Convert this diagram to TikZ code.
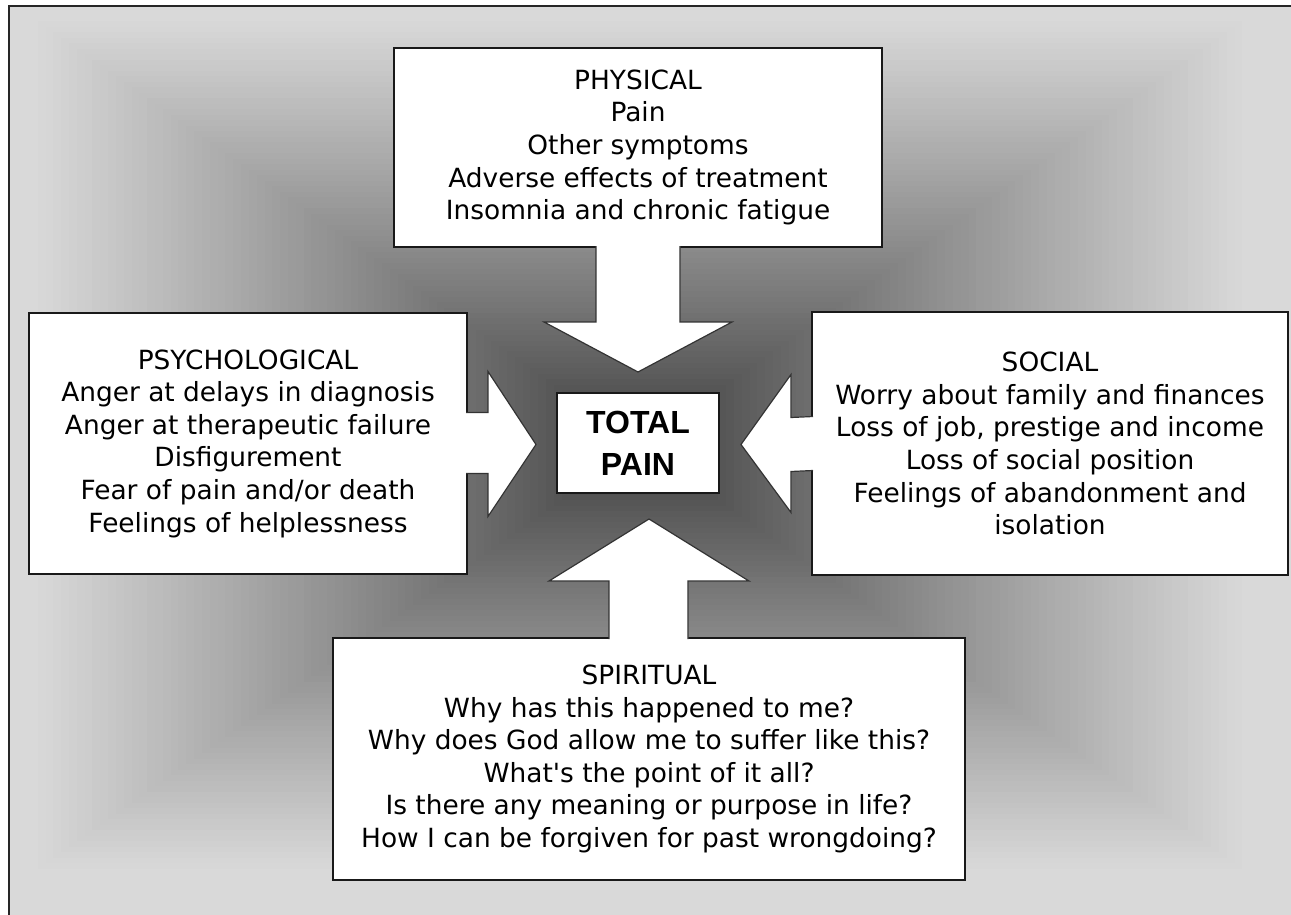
\documentclass[tikz,border=0pt]{standalone}
\usepackage{fontspec}
\setmainfont{DejaVu Sans}
\newfontfamily\titlefont{Liberation Sans}
\usetikzlibrary{calc}

\tikzset{
  panel/.style={draw=black!90,line width=1pt,fill=white,align=center,inner sep=0pt},
  blockarrow/.style={fill=white,draw=black!80,line width=0.6pt,line join=miter},
}

\begin{document}
\begin{tikzpicture}[x=0.5pt,y=-0.5pt,font=\fontsize{13.2}{16.3}\selectfont]
  \useasboundingbox (0,0) rectangle (1291,915);
  \fill[white] (0,0) rectangle (1291,915);
  % backdrop: rectangular shading, dark round the middle, light at the rim
  \begin{scope}
    \clip (9,6) rectangle (1291,915);
    \foreach \i in {0,...,89}{
      \pgfmathsetmacro\t{1.1*(1-\i/90)}
      \pgfmathsetmacro\k{100-100*(0.23+0.62*min(1,\t/0.95)^0.9)}
      \fill[black!\k] ({640-640*\t},{445-450*\t}) rectangle ({640+640*\t},{445+450*\t});
    }
  \end{scope}
  \draw[black!85,line width=1pt] (9,915) -- (9,6) -- (1291,6);

  % the four panels
  \node[panel,minimum width=244pt,minimum height=99.5pt] (phys) at (638,147.5)
    {PHYSICAL\\Pain\\Other symptoms\\Adverse effects of treatment\\Insomnia and chronic fatigue};
  \node[panel,minimum width=219pt,minimum height=130.5pt] (psych) at (248,443.5)
    {PSYCHOLOGICAL\\Anger at delays in diagnosis\\Anger at therapeutic failure\\Disfigurement\\Fear of pain and/or death\\Feelings of helplessness};
  \node[panel,minimum width=238pt,minimum height=131.5pt] (social) at (1050,443.5)
    {SOCIAL\\Worry about family and finances\\Loss of job, prestige and income\\Loss of social position\\Feelings of abandonment and\\isolation};
  \node[panel,minimum width=316pt,minimum height=121pt] (spirit) at (649,759)
    {SPIRITUAL\\Why has this happened to me?\\Why does God allow me to suffer like this?\\What\textquotesingle s the point of it all?\\Is there any meaning or purpose in life?\\How I can be forgiven for past wrongdoing?};

  % centre
  \node[panel,minimum width=81pt,minimum height=50pt,font=\titlefont\bfseries\fontsize{16}{21}\selectfont] (total) at (638,443) {TOTAL\\PAIN};

  % block arrows into the centre
  \coordinate (tipP) at ($(total.north)+(0,-20)$);
  \coordinate (tipS) at ($(spirit.north |- total.south)+(0,25)$);
  \coordinate (tipL) at ($(total.west |- psych.east)+(-20,1)$);
  \coordinate (tipR) at ($(total.east |- social.west)+(21,1)$);
  \path[blockarrow] ($(phys.south)+(-42,-2)$) -- ($(tipP)+(-42,-50)$) -- ($(tipP)+(-94,-50)$) -- (tipP)
    -- ($(tipP)+(94,-50)$) -- ($(tipP)+(42,-50)$) -- ($(phys.south)+(42,-2)$);
  \path[blockarrow] ($(spirit.north)+(-40,2)$) -- ($(tipS)+(-40,62)$) -- ($(tipS)+(-100,62)$) -- (tipS)
    -- ($(tipS)+(100,62)$) -- ($(tipS)+(39,62)$) -- ($(spirit.north)+(39,2)$);
  \path[blockarrow] ($(psych.east)+(-2,-31)$) -- ($(tipL)+(-48,-32)$) -- ($(tipL)+(-48,-73)$) -- (tipL)
    -- ($(tipL)+(-48,72)$) -- ($(tipL)+(-48,29)$) -- ($(psych.east)+(-2,30)$);
  \path[blockarrow] ($(social.west)+(2,-27)$) -- ($(tipR)+(50,-27)$) -- ($(tipR)+(50,-70)$) -- (tipR)
    -- ($(tipR)+(50,68)$) -- ($(tipR)+(50,27)$) -- ($(social.west)+(2,27)$);
\end{tikzpicture}
\end{document}
